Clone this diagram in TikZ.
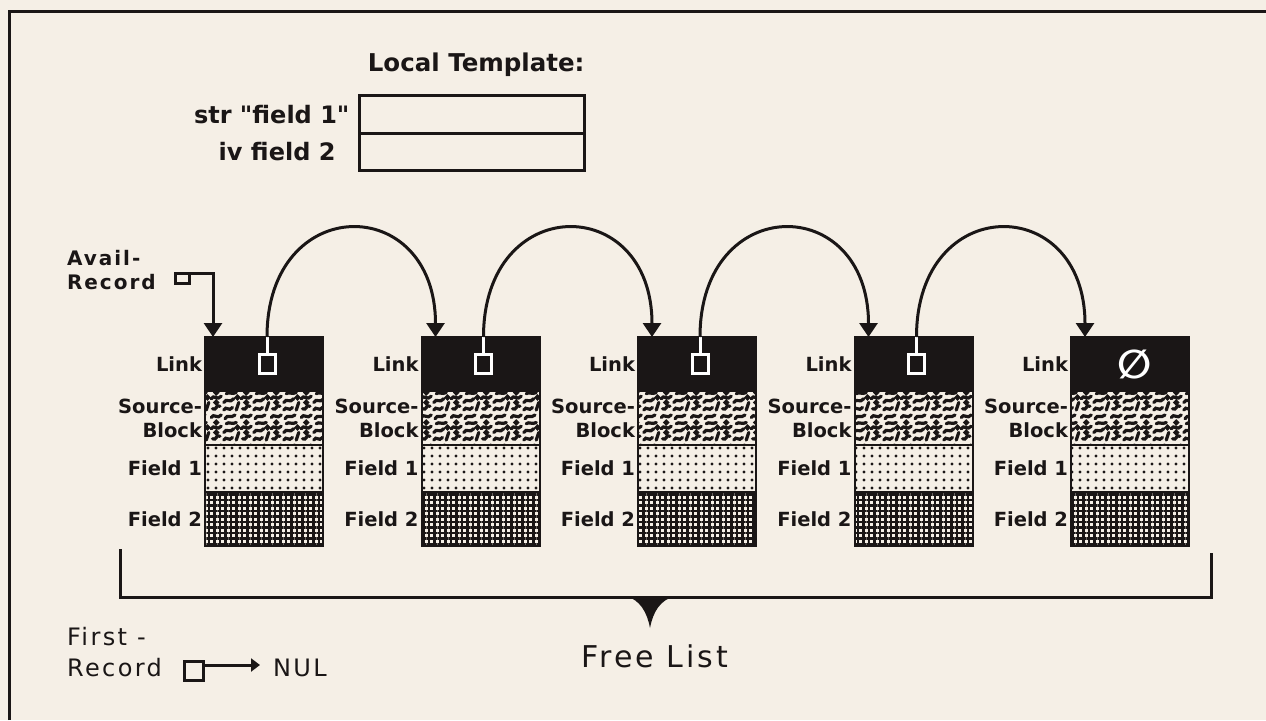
\documentclass[tikz,border=0pt]{standalone}
\usepackage{fontspec}
\setmainfont{DejaVu Sans}
\newfontfamily\spacedfont[LetterSpace=10]{DejaVu Sans}
\newfontfamily\tplfont{DejaVu Sans}
\usepackage{xcolor}
\usetikzlibrary{arrows.meta, positioning, patterns, patterns.meta}

\definecolor{paper}{RGB}{245,239,230}
\definecolor{ink}{RGB}{26,22,22}

% wavy texture for the source-block rows
\pgfdeclarepatternformonly{squiggle}{\pgfqpoint{-1pt}{-1pt}}{\pgfqpoint{31pt}{31pt}}{\pgfqpoint{30pt}{30pt}}{%
  \pgfsetlinewidth{3.2pt}%
  \pgfsetroundcap
  \pgfpathmoveto{\pgfqpoint{1.25pt}{2.5pt}}\pgfpathcurveto{\pgfqpoint{3.75pt}{7.5pt}}{\pgfqpoint{7.5pt}{0pt}}{\pgfqpoint{11.25pt}{5pt}}%
  \pgfpathmoveto{\pgfqpoint{15pt}{1.25pt}}\pgfpathcurveto{\pgfqpoint{17.5pt}{6.25pt}}{\pgfqpoint{21.25pt}{1.25pt}}{\pgfqpoint{25pt}{5pt}}%
  \pgfpathmoveto{\pgfqpoint{26.25pt}{10pt}}\pgfpathcurveto{\pgfqpoint{28.75pt}{12.5pt}}{\pgfqpoint{26.25pt}{15pt}}{\pgfqpoint{28.75pt}{17.5pt}}%
  \pgfpathmoveto{\pgfqpoint{2.5pt}{11.25pt}}\pgfpathcurveto{\pgfqpoint{6.25pt}{8.75pt}}{\pgfqpoint{6.25pt}{16.25pt}}{\pgfqpoint{10pt}{13.75pt}}%
  \pgfpathmoveto{\pgfqpoint{13.75pt}{10pt}}\pgfpathcurveto{\pgfqpoint{16.25pt}{15pt}}{\pgfqpoint{18.75pt}{7.5pt}}{\pgfqpoint{22.5pt}{12.5pt}}%
  \pgfpathmoveto{\pgfqpoint{1.25pt}{21.25pt}}\pgfpathcurveto{\pgfqpoint{3.75pt}{26.25pt}}{\pgfqpoint{7.5pt}{18.75pt}}{\pgfqpoint{11.25pt}{23.75pt}}%
  \pgfpathmoveto{\pgfqpoint{13.75pt}{17.5pt}}\pgfpathcurveto{\pgfqpoint{16.25pt}{22.5pt}}{\pgfqpoint{20pt}{16.25pt}}{\pgfqpoint{23.75pt}{21.25pt}}%
  \pgfpathmoveto{\pgfqpoint{16.25pt}{26.25pt}}\pgfpathcurveto{\pgfqpoint{18.75pt}{28.75pt}}{\pgfqpoint{22.5pt}{25pt}}{\pgfqpoint{26.25pt}{27.5pt}}%
  \pgfpathcircle{\pgfqpoint{6.25pt}{17.5pt}}{1.1pt}%
  \pgfpathcircle{\pgfqpoint{27.5pt}{22.5pt}}{1.1pt}%
  \pgfpathcircle{\pgfqpoint{6.25pt}{27.5pt}}{1.1pt}%
  \pgfusepath{stroke}%
}

\begin{document}
\begin{tikzpicture}[x=1pt, y=-1pt,
  every node/.style={outer sep=0pt},
  node distance=0pt and 98.5pt,
  recbox/.style={draw=ink, line width=2pt, minimum width=118pt, inner sep=0pt},
  linkrow/.style={recbox, fill=ink, minimum height=54pt, label={[reclbl]left:Link}},
  srcrow/.style={recbox, pattern=squiggle, pattern color=ink, minimum height=54pt,
    label={[reclbl, align=right]left:{Source-\\Block}}},
  fonerow/.style={recbox, pattern={Dots[distance=8pt, radius=1.6pt]}, pattern color=ink,
    minimum height=47pt, label={[reclbl]left:Field 1}},
  ftworow/.style={recbox, pattern={Hatch[angle=0, distance=5.5pt, line width=2.2pt]},
    pattern color=ink, minimum height=54pt, label={[reclbl]left:Field 2}},
  reclbl/.style={font=\bfseries\fontsize{19.5}{24}\selectfont, text=ink, inner sep=3pt},
  ptrbox/.style={draw=white, fill=ink, line width=3pt, minimum width=16pt, minimum height=19pt},
  nilmark/.style={text=white, font=\bfseries\fontsize{40}{40}\selectfont, inner sep=0pt},
  whitestub/.style={draw=white, line width=3pt},
  nextarc/.style={draw=ink, line width=3pt, -{Triangle[width=18pt, length=14pt]}},
  tplrow/.style={draw=ink, line width=3pt, minimum width=225pt, minimum height=37.5pt},
  tpllbl/.style={font=\tplfont\bfseries\fontsize{24}{28}\selectfont, text=ink, inner sep=0pt},
  availlbl/.style={font=\spacedfont\bfseries\fontsize{20}{24}\selectfont, text=ink, inner sep=0pt},
  bottomlbl/.style={font=\spacedfont\fontsize{24}{31}\selectfont, text=ink, inner sep=0pt},
  smallsq/.style={draw=ink, line width=3pt, fill=paper},
  thickline/.style={draw=ink, line width=3pt}
]
\path[use as bounding box, fill=paper] (0,0) rectangle (1266,720);
\draw[thickline] (9,720) -- (9,11) -- (1266,11);

% local template
\node[tplrow] (tpl1) at (472,114.5) {};
\node[tplrow, below=of tpl1] (tpl2) {};
\node[tpllbl, left=10pt of tpl1] (str) {str "field 1"};
\node[tpllbl, left=24pt of tpl2] (iv) {iv field 2};
\node[tpllbl, font=\bfseries\fontsize{24.5}{28}\selectfont, anchor=south east] (title)
  at ([yshift=19pt]tpl1.north east) {Local Template:};

% the five records
\node[linkrow] (link1) at (264,364) {};
\node[srcrow, below=of link1] (src1) {};
\node[fonerow, below=of src1] (fa1) {};
\node[ftworow, below=of fa1] (fb1) {};
\node[linkrow, right=of link1] (link2) {};
\node[srcrow, below=of link2] (src2) {};
\node[fonerow, below=of src2] (fa2) {};
\node[ftworow, below=of fa2] (fb2) {};
\node[linkrow, right=of link2] (link3) {};
\node[srcrow, below=of link3] (src3) {};
\node[fonerow, below=of src3] (fa3) {};
\node[ftworow, below=of fa3] (fb3) {};
\node[linkrow, right=of link3] (link4) {};
\node[srcrow, below=of link4] (src4) {};
\node[fonerow, below=of src4] (fa4) {};
\node[ftworow, below=of fa4] (fb4) {};
\node[linkrow, right=of link4] (link5) {};
\node[srcrow, below=of link5] (src5) {};
\node[fonerow, below=of src5] (fa5) {};
\node[ftworow, below=of fa5] (fb5) {};

\node[ptrbox] (ptr1) at ([xshift=3pt]link1.center) {};
\node[ptrbox] (ptr2) at ([xshift=3pt]link2.center) {};
\node[ptrbox] (ptr3) at ([xshift=3pt]link3.center) {};
\node[ptrbox] (ptr4) at ([xshift=3pt]link4.center) {};
\node[nilmark] (nil) at ([xshift=5pt]link5.center) {∅};

\draw[whitestub] (ptr1.north) -- (ptr1 |- link1.north);
\draw[whitestub] (ptr2.north) -- (ptr2 |- link2.north);
\draw[whitestub] (ptr3.north) -- (ptr3 |- link3.north);
\draw[whitestub] (ptr4.north) -- (ptr4 |- link4.north);
\draw[nextarc] (ptr1 |- link1.north) .. controls +(0,-145) and +(0,-145) .. ([xshift=14pt]link2.north west);
\draw[nextarc] (ptr2 |- link2.north) .. controls +(0,-145) and +(0,-145) .. ([xshift=14pt]link3.north west);
\draw[nextarc] (ptr3 |- link3.north) .. controls +(0,-145) and +(0,-145) .. ([xshift=14pt]link4.north west);
\draw[nextarc] (ptr4 |- link4.north) .. controls +(0,-145) and +(0,-145) .. ([xshift=14pt]link5.north west);

% avail pointer
\node[availlbl, anchor=west, align=left] (avail) at (67,270) {Avail-\\Record};
\node[smallsq, minimum width=14pt, minimum height=10pt] (asq) at (182,278) {};
\draw[thickline, -{Triangle[width=18pt, length=14pt]}] (asq.north east) -| ([xshift=8pt]link1.north west);

% free list bracket
\coordinate (brl) at (120,549);
\coordinate (brb) at (650,597);
\coordinate (brr) at (1211,553);
\draw[thickline] (brl) |- (brb) -| (brr);
\fill[ink] (626,596) -- (675,596) .. controls (660,600) and (653,612) .. (650,628)
  .. controls (647,612) and (640,600) .. cycle;
\node[bottomlbl, font=\spacedfont\fontsize{30}{36}\selectfont] (free) at (655,656) {Free List};

% first record
\node[bottomlbl, anchor=west, align=left] (first) at (67,652) {First -\\Record};
\node[smallsq, minimum width=19pt, minimum height=19pt] (fsq) at (194,671) {};
\node[bottomlbl, anchor=west] (nul) at (273,668) {NUL};
\coordinate (nulstart) at ([yshift=6pt]fsq.east);
\draw[thickline, -{Triangle[width=13pt, length=9pt]}, shorten >=13pt] (nulstart) -- (nulstart -| nul.west);
\end{tikzpicture}
\end{document}
